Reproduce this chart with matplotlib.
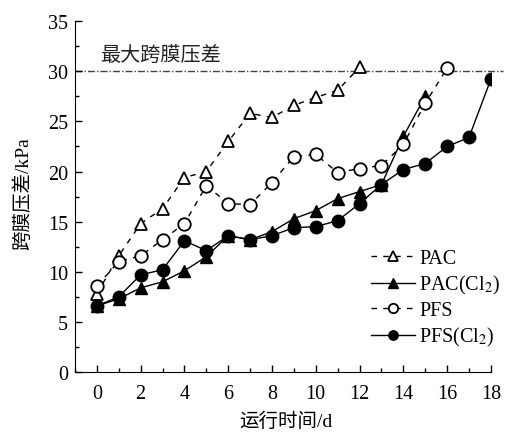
import matplotlib
matplotlib.use("Agg")
import matplotlib.pyplot as plt
from matplotlib.ticker import MultipleLocator

plt.rcParams['font.family'] = ['Liberation Serif', 'Noto Sans CJK SC']
plt.rcParams['mathtext.fontset'] = 'stix'

days_pac = list(range(0, 13))
pac = [7.8, 11.6, 14.8, 16.3, 19.4, 20.0, 23.0, 25.8, 25.4, 26.6, 27.4, 28.1, 30.4]

days_pac_cl = list(range(0, 16))
pac_cl = [6.6, 7.3, 8.4, 9.0, 10.1, 11.5, 13.6, 13.2, 14.0, 15.3, 16.1, 17.3, 18.0, 18.7, 23.5, 27.5]

days_pfs = list(range(0, 17))
pfs = [8.6, 11.0, 11.6, 13.2, 14.8, 18.6, 16.8, 16.7, 18.9, 21.5, 21.7, 19.9, 20.3, 20.6, 22.7, 26.8, 30.3]

days_pfs_cl = list(range(0, 19))
pfs_cl = [6.6, 7.5, 9.7, 10.2, 13.1, 12.1, 13.6, 13.2, 13.6, 14.4, 14.5, 15.1, 16.8, 18.7, 20.2, 20.8, 22.5, 23.4, 29.2]

max_tmp = 30
labels = ['PAC', 'PAC(Cl$_2$)', 'PFS', 'PFS(Cl$_2$)']

fig = plt.figure(figsize=(5.05, 4.35), dpi=100)
ax = fig.add_axes([0.1485, 0.1425, 0.8235, 0.8065])

ms = 9
dash = (0, (4, 4.5))
ax.plot(days_pac, pac, linestyle=dash, color='black', lw=1.0, marker='^',
        mfc='white', mec='black', mew=1.3, ms=ms, label=labels[0])
ax.plot(days_pac_cl, pac_cl, linestyle='-', color='black', lw=1.0, marker='^',
        mfc='black', mec='black', ms=ms, label=labels[1])
ax.plot(days_pfs, pfs, linestyle=dash, color='black', lw=1.0, marker='o',
        mfc='white', mec='black', mew=1.3, ms=ms, label=labels[2])
ax.plot(days_pfs_cl, pfs_cl, linestyle='-', color='black', lw=1.0, marker='o',
        mfc='black', mec='black', ms=ms, label=labels[3])

ax.plot([-1, 18.55], [max_tmp, max_tmp], color='#444444', lw=1.0,
        linestyle=(0, (5, 1.5, 1, 1.5)), clip_on=False, zorder=1)
ax.text(0.14, 31.6, '最大跨膜压差', fontsize=14.5, ha='left', va='center',
        family=['Noto Sans CJK SC'], color='#222222')

ax.set_xlim(-1, 18)
ax.set_ylim(0, 35)
ax.xaxis.set_major_locator(MultipleLocator(2))
ax.xaxis.set_minor_locator(MultipleLocator(1))
ax.yaxis.set_major_locator(MultipleLocator(5))
ax.yaxis.set_minor_locator(MultipleLocator(2.5))
ax.tick_params(which='both', direction='in', labelsize=14.5, width=1.0)
ax.tick_params(which='major', length=5)
ax.tick_params(which='minor', length=3)
ax.tick_params(axis='x', pad=8.5)
ax.tick_params(axis='y', pad=5)
ax.spines['top'].set_visible(False)
ax.spines['right'].set_visible(False)

ax.set_xlabel('运行时间/d', fontsize=14)
ax.set_ylabel('跨膜压差/kPa', fontsize=14)
ax.xaxis.set_label_coords(0.507, -0.112)
ax.yaxis.set_label_coords(-0.103, 0.511)

ax.legend(loc='center left', bbox_to_anchor=(0.668, 0.209), frameon=False, fontsize=14.5,
          handlelength=2.2, labelspacing=0.25, handletextpad=0.2, markerscale=0.75)

fig.savefig('out.png', dpi=100)
